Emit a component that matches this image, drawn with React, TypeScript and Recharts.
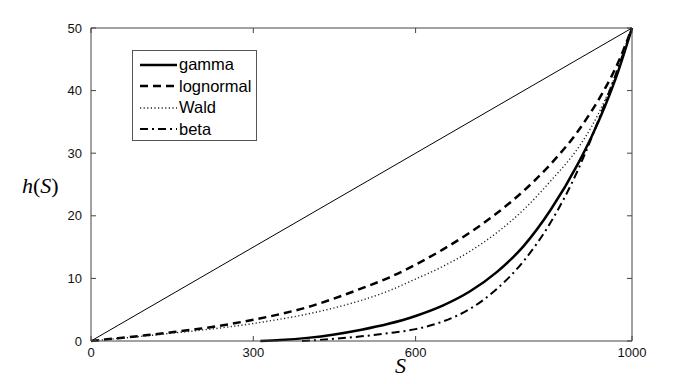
import { LineChart, Line, XAxis, YAxis, ReferenceLine } from "recharts";

// S grid shared by lognormal and Wald
const sGrid = [0, 50, 100, 150, 200, 250, 300, 350, 400, 450, 500, 550, 600, 650, 700, 750, 800, 850, 900, 925, 950, 975, 1000];
const lognormalH = [0, 0.45, 0.9, 1.4, 1.95, 2.6, 3.4, 4.3, 5.4, 6.8, 8.4, 10.1, 12.2, 14.6, 17.3, 20.4, 24.0, 28.3, 33.5, 36.7, 40.3, 44.6, 50];
const waldH = [0, 0.4, 0.8, 1.25, 1.7, 2.2, 2.8, 3.5, 4.3, 5.3, 6.5, 8.0, 9.9, 11.9, 14.3, 17.3, 21.0, 25.6, 30.8, 34.2, 38.5, 43.6, 50];

const gammaS = [313, 350, 400, 450, 500, 550, 600, 650, 700, 750, 800, 850, 900, 925, 950, 975, 1000];
const gammaH = [0, 0.15, 0.5, 1.05, 1.8, 2.75, 4.0, 5.65, 7.9, 11.0, 15.2, 21.0, 28.3, 32.6, 37.5, 43.2, 50];

const betaS = [390, 450, 500, 550, 600, 650, 700, 750, 800, 850, 900, 925, 950, 975, 1000];
const betaH = [0, 0.35, 0.75, 1.25, 1.9, 3.1, 5.1, 8.3, 12.8, 19.0, 27.3, 32.4, 38.0, 43.8, 50];

const diagS = [0, 1000];
const diagH = [0, 50];

const xTicks = [0, 300, 600, 1000];
const yTicks = [0, 10, 20, 30, 40, 50];

const zip = (s: number[], h: number[]) => s.map((v, i) => ({ s: v, h: h[i] }));

const series = [
  { name: "gamma", data: zip(gammaS, gammaH), width: 2.5, dash: undefined as string | undefined, color: "#000" },
  { name: "lognormal", data: zip(sGrid, lognormalH), width: 2.5, dash: "8 5", color: "#000" },
  { name: "Wald", data: zip(sGrid, waldH), width: 1.4, dash: "1.2 2.4", color: "#222" },
  { name: "beta", data: zip(betaS, betaH), width: 2, dash: "8 4 2 4", color: "#000" },
];

const W = 682;
const H = 368;
const M = { top: 20, right: 58, bottom: 5, left: 43 };
const X_AXIS_H = 30;
const Y_AXIS_W = 40;
const plotW = W - M.left - M.right - Y_AXIS_W;
const plotH = H - M.top - M.bottom - X_AXIS_H;

const font = "Liberation Sans, Arial, sans-serif";
const axisColor = "#444";
const TICK_LEN = 5;
const X_MARGIN = 7;
const Y_MARGIN = 9;

// MATLAB style: ticks point inward, on both opposite sides of the box
const XTick = (props: any) => {
  const { x, y, payload } = props;
  const axisY = y - X_MARGIN;
  return (
    <g>
      <line x1={x} y1={axisY} x2={x} y2={axisY - TICK_LEN} stroke={axisColor} />
      <line x1={x} y1={axisY - plotH} x2={x} y2={axisY - plotH + TICK_LEN} stroke={axisColor} />
      <text x={x} y={y} dy="0.71em" textAnchor="middle" fontSize={13} fill="#111" fontFamily={font}>
        {payload.value}
      </text>
    </g>
  );
};

const YTick = (props: any) => {
  const { x, y, payload } = props;
  const axisX = x + Y_MARGIN;
  return (
    <g>
      <line x1={axisX} y1={y} x2={axisX + TICK_LEN} y2={y} stroke={axisColor} />
      <line x1={axisX + plotW} y1={y} x2={axisX + plotW - TICK_LEN} y2={y} stroke={axisColor} />
      <text x={x} y={y} dy="0.355em" textAnchor="end" fontSize={13} fill="#111" fontFamily={font}>
        {payload.value}
      </text>
    </g>
  );
};

export default function App() {
  return (
    <div style={{ position: "relative", width: W, height: H }}>
      <LineChart width={W} height={H} margin={M}>
        <XAxis
          dataKey="s"
          type="number"
          domain={[0, 1000]}
          ticks={xTicks}
          height={X_AXIS_H}
          tickSize={0}
          tickLine={false}
          tickMargin={X_MARGIN}
          stroke={axisColor}
          tick={<XTick />}
          allowDuplicatedCategory={false}
        />
        <YAxis
          type="number"
          domain={[0, 50]}
          ticks={yTicks}
          width={Y_AXIS_W}
          tickSize={0}
          tickLine={false}
          tickMargin={Y_MARGIN}
          stroke={axisColor}
          tick={<YTick />}
        />
        <ReferenceLine y={50} stroke={axisColor} strokeWidth={1} />
        <ReferenceLine x={1000} stroke={axisColor} strokeWidth={1} />
        <Line
          data={zip(diagS, diagH)}
          dataKey="h"
          type="linear"
          stroke="#000"
          strokeWidth={1}
          dot={false}
          isAnimationActive={false}
        />
        {series.map((d) => (
          <Line
            key={d.name}
            data={d.data}
            dataKey="h"
            name={d.name}
            type="monotone"
            stroke={d.color}
            strokeWidth={d.width}
            strokeDasharray={d.dash}
            dot={false}
            isAnimationActive={false}
          />
        ))}
      </LineChart>

      {/* legend box */}
      <div
        style={{
          position: "absolute",
          left: 124,
          top: 42,
          width: 125,
          height: 91,
          border: "1px solid #555",
          background: "#fff",
          boxSizing: "border-box",
          padding: "3px 0 0 7px",
          fontFamily: font,
          fontSize: 16.5,
          color: "#000",
        }}
      >
        {series.map((d) => (
          <div key={d.name} style={{ display: "flex", alignItems: "center", height: 21.5 }}>
            <svg width={37} height={10} style={{ marginRight: 2 }}>
              <line x1={0} y1={5} x2={37} y2={5} stroke={d.color} strokeWidth={d.width} strokeDasharray={d.dash} />
            </svg>
            <span>{d.name}</span>
          </div>
        ))}
      </div>

      {/* axis labels */}
      <div
        style={{
          position: "absolute",
          left: 387,
          top: 346,
          fontFamily: "Liberation Serif, Times New Roman, serif",
          fontStyle: "italic",
          fontSize: 22,
          lineHeight: "24px",
        }}
      >
        S
      </div>
      <div
        style={{
          position: "absolute",
          left: 14,
          top: 166,
          fontFamily: "Liberation Serif, Times New Roman, serif",
          fontSize: 22,
          lineHeight: "24px",
          whiteSpace: "nowrap",
        }}
      >
        <i>h</i>(<i>S</i>)
      </div>
    </div>
  );
}
